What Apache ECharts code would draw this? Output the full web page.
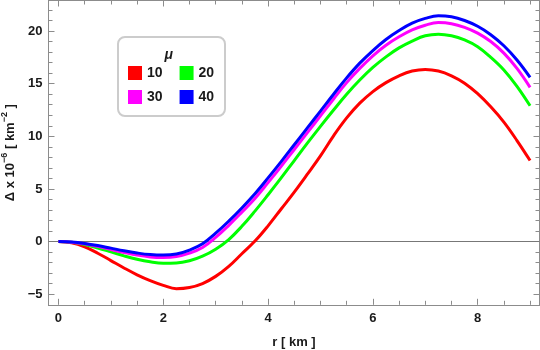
<!DOCTYPE html>
<html>
<head>
<meta charset="utf-8">
<script src="https://cdn.jsdelivr.net/npm/echarts@6/dist/echarts.min.js"></script>
<style>
  html, body { margin: 0; padding: 0; background: #fff; }
  #chart { width: 540px; height: 350px; }
</style>
</head>
<body>
<div id="chart"></div>
<script>
// r [km]
var rKm = [0, 0.25, 0.5, 0.75, 1, 1.25, 1.5, 1.75, 2, 2.25, 2.5, 2.75, 3, 3.25, 3.5, 3.75,
           4, 4.25, 4.5, 4.75, 5, 5.25, 5.5, 5.75, 6, 6.25, 6.5, 6.75, 7, 7.25, 7.5, 7.75,
           8, 8.25, 8.5, 8.75, 9];
// Δ x 10^-6 for each μ
var mu10 = [0, -0.12, -0.5, -1.1, -1.8, -2.5, -3.15, -3.7, -4.15, -4.47, -4.36, -3.98, -3.3, -2.35, -1.15, 0.05,
            1.5, 3.1, 4.7, 6.4, 8.15, 10.05, 11.75, 13.15, 14.25, 15.1, 15.75, 16.2, 16.35, 16.2, 15.75, 15.05,
            14.05, 12.8, 11.35, 9.6, 7.7];
var mu20 = [0, -0.07, -0.28, -0.6, -0.97, -1.35, -1.68, -1.92, -2.05, -2.03, -1.82, -1.38, -0.72, 0.2, 1.45, 2.9,
            4.45, 6.05, 7.7, 9.35, 10.95, 12.5, 14.0, 15.35, 16.55, 17.55, 18.4, 19.05, 19.55, 19.7, 19.55, 19.15,
            18.5, 17.5, 16.3, 14.75, 12.9];
var mu30 = [0, -0.05, -0.2, -0.45, -0.75, -1.03, -1.28, -1.45, -1.5, -1.42, -1.1, -0.55, 0.4, 1.55, 2.8, 4.1,
            5.6, 7.15, 8.75, 10.35, 11.95, 13.55, 15.1, 16.45, 17.65, 18.65, 19.45, 20.1, 20.55, 20.8, 20.7, 20.35,
            19.8, 19.0, 17.9, 16.45, 14.65];
var mu40 = [0, -0.04, -0.17, -0.37, -0.62, -0.87, -1.08, -1.23, -1.28, -1.18, -0.8, -0.2, 0.8, 1.95, 3.2, 4.55,
            6.05, 7.6, 9.2, 10.8, 12.4, 14.0, 15.55, 16.95, 18.15, 19.2, 20.05, 20.75, 21.2, 21.45, 21.35, 21.0,
            20.45, 19.65, 18.6, 17.25, 15.6];

var muNames = ["10", "20", "30", "40"];
var muColors = ["#ff0000", "#00ff00", "#ff00ff", "#0000ff"];

// ticks
var xMajor = [0, 2, 4, 6, 8];
var xMinor = [0.5, 1, 1.5, 2.5, 3, 3.5, 4.5, 5, 5.5, 6.5, 7, 7.5, 8.5, 9];
var yMajor = [-5, 0, 5, 10, 15, 20];
var yMinor = [-4, -3, -2, -1, 1, 2, 3, 4, 6, 7, 8, 9, 11, 12, 13, 14, 16, 17, 18, 19, 21, 22];

var frameColor = "#8c8c8c";
var labelFont = { fontFamily: "Liberation Sans, Arial, sans-serif", fontWeight: "bold", fontSize: 13, color: "#1a1a1a" };

function pairs(ys) {
  var out = [];
  for (let i = 0; i < rKm.length; i++) out.push([rKm[i], ys[i]]);
  return out;
}

function makeX(pos, ticks, len, withLabels) {
  return {
    type: "value", position: pos, min: -0.19, max: 9.18,
    axisLine: { show: true, onZero: false, lineStyle: { color: frameColor, width: 1 } },
    axisTick: { show: true, inside: true, length: len, customValues: ticks, lineStyle: { color: frameColor } },
    axisLabel: withLabels ? Object.assign({ show: true, margin: 7, customValues: ticks }, labelFont) : { show: false },
    splitLine: { show: false }
  };
}

function makeY(pos, ticks, len, withLabels) {
  return {
    type: "value", position: pos, min: -6.0, max: 22.9,
    axisLine: { show: true, onZero: false, lineStyle: { color: frameColor, width: 1 } },
    axisTick: { show: true, inside: true, length: len, customValues: ticks, lineStyle: { color: frameColor } },
    axisLabel: withLabels ? Object.assign({
      show: true, margin: 6, customValues: ticks,
      formatter: function (v) { return String(v).replace("-", "\u2212"); }
    }, labelFont) : { show: false },
    splitLine: { show: false }
  };
}

var xAxes = [makeX("bottom", xMajor, 6, true), makeX("bottom", xMinor, 4, false),
             makeX("top", xMajor, 6, false), makeX("top", xMinor, 4, false)];
xAxes[0].name = "r [ km ]";
xAxes[0].nameLocation = "middle";
xAxes[0].nameGap = 31;
xAxes[0].nameTextStyle = Object.assign({}, labelFont);

var yAxes = [makeY("left", yMajor, 6, true), makeY("left", yMinor, 4, false),
             makeY("right", yMajor, 6, false), makeY("right", yMinor, 4, false)];
yAxes[0].name = "{b|\u0394 x 10}{sup|\u22126}{b| [ km}{sup|\u22122}{b| ]}";
yAxes[0].nameLocation = "middle";
yAxes[0].nameRotate = 90;
yAxes[0].nameGap = 28;
yAxes[0].nameTextStyle = {
  rich: {
    b: { fontFamily: labelFont.fontFamily, fontWeight: "bold", fontSize: 13, color: "#1a1a1a", lineHeight: 20 },
    sup: { fontFamily: labelFont.fontFamily, fontWeight: "bold", fontSize: 9, color: "#1a1a1a", lineHeight: 9, verticalAlign: "top" }
  }
};

var series = [];
var allData = [mu10, mu20, mu30, mu40];
for (let i = 0; i < allData.length; i++) {
  series.push({
    name: muNames[i], type: "line", data: pairs(allData[i]),
    smooth: 0.4, showSymbol: false, symbol: "none",
    lineStyle: { color: muColors[i], width: 3 },
    itemStyle: { color: muColors[i] },
    z: 3 + i
  });
}
series[0].markLine = {
  silent: true, symbol: "none", label: { show: false },
  lineStyle: { color: "#777777", width: 1, type: "solid" },
  data: [{ yAxis: 0 }], z: 1
};

var legendText = { fontFamily: labelFont.fontFamily, fontWeight: "bold", fontSize: 14, color: "#1a1a1a" };

var chart = echarts.init(document.getElementById("chart"));
chart.setOption({
  animation: false,
  grid: { left: 48.5, right: 0.5, top: 0.5, bottom: 45.2, containLabel: false, outerBoundsMode: "none" },
  xAxis: xAxes,
  yAxis: yAxes,
  legend: [
    { data: ["10", "20"], left: 128, top: 66, padding: 0, itemWidth: 14, itemHeight: 14, itemGap: 17, icon: "rect", textStyle: legendText, z: 10, selectedMode: false },
    { data: ["30", "40"], left: 128, top: 90, padding: 0, itemWidth: 14, itemHeight: 14, itemGap: 17, icon: "rect", textStyle: legendText, z: 10, selectedMode: false }
  ],
  graphic: [
    { type: "rect", z: 8, shape: { x: 118, y: 37, width: 107, height: 79, r: 7 }, style: { fill: "#ffffff", stroke: "#cccccc", lineWidth: 2 } },
    { type: "text", z: 10, x: 168.7, y: 54.7, style: { text: "\u03bc", fontFamily: labelFont.fontFamily, fontWeight: "bold", fontStyle: "italic", fontSize: 14, fill: "#1a1a1a", align: "center", verticalAlign: "middle" } }
  ],
  series: series
});
</script>
</body>
</html>
